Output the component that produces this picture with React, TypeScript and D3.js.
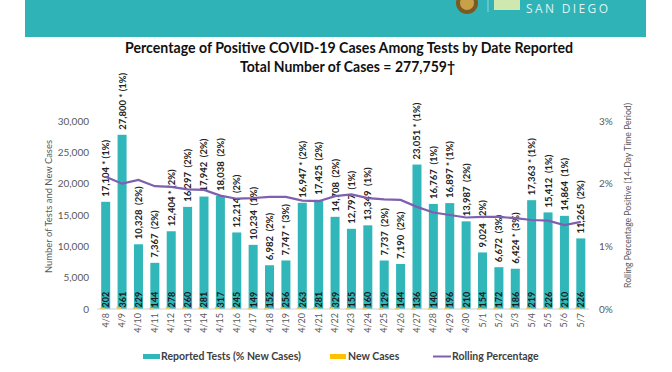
import React from "react";
import * as d3 from "d3";

// values (4/8 - 5/7)
const dates = ["4/8", "4/9", "4/10", "4/11", "4/12", "4/13", "4/14", "4/15", "4/16", "4/17",
  "4/18", "4/19", "4/20", "4/21", "4/22", "4/23", "4/24", "4/25", "4/26", "4/27",
  "4/28", "4/29", "4/30", "5/1", "5/2", "5/3", "5/4", "5/5", "5/6", "5/7"];
const tests = [17104, 27800, 10328, 7367, 12404, 16297, 17942, 18038, 12214, 10234,
  6982, 7747, 16947, 17425, 14708, 12797, 13349, 7737, 7190, 23051,
  16767, 16897, 13987, 9024, 6672, 6424, 17363, 15412, 14864, 11265];
const newCases = [202, 361, 229, 144, 278, 260, 281, 317, 245, 149,
  152, 256, 263, 281, 329, 155, 160, 129, 144, 136,
  140, 196, 210, 154, 172, 186, 219, 226, 210, 226];
const pctNew = [1, 1, 2, 2, 2, 2, 2, 2, 2, 1, 2, 3, 2, 2, 2, 1, 1, 2, 2, 1, 1, 1, 2, 2, 3, 3, 1, 1, 1, 2];
const starred = [1, 1, 0, 0, 1, 0, 0, 0, 0, 0, 0, 1, 1, 0, 0, 0, 0, 0, 0, 1, 0, 1, 0, 0, 0, 1, 1, 0, 0, 0];
const rolling = [2.11, 2.0, 2.06, 1.96, 1.95, 1.91, 1.9, 1.81, 1.76, 1.77,
  1.79, 1.79, 1.73, 1.72, 1.8, 1.83, 1.77, 1.75, 1.74, 1.63,
  1.54, 1.5, 1.46, 1.47, 1.47, 1.45, 1.42, 1.41, 1.34, 1.39];
const leftTicks = [0, 5000, 10000, 15000, 20000, 25000, 30000];
const rightTicks = [0, 1, 2, 3];

const TEAL = "#31b6b9";
const ORANGE = "#ffc000";
const PURPLE = "#7e5fb0";
const GREY = "#595959";
const FONT = "Lato, 'Liberation Sans', sans-serif";

export default function App() {
  const x = d3.scaleBand<string>().domain(dates).range([97.5, 589]).paddingInner(0.45).paddingOuter(0.225);
  const y = d3.scaleLinear().domain([0, 30000]).range([309, 121]);
  const yR = d3.scaleLinear().domain([0, 3]).range([309, 121]);
  const fmt = d3.format(",");
  const cx = (d: string) => (x(d) as number) + x.bandwidth() / 2;

  const line = d3.line<number>()
    .x((d, i) => cx(dates[i]))
    .y(d => yR(d));

  return (
    <svg width={672} height={372} style={{ position: "absolute", left: 0, top: 0, background: "#fff" }}
      fontFamily={FONT}>
      {/* banner */}
      <rect x={25} y={0} width={621} height={37} fill="#2fb3b7" />
      <circle cx={467} cy={3} r={11} fill="#7a5a22" />
      <circle cx={467} cy={3} r={7} fill="#c9a04a" />
      <line x1={488} x2={488} y1={0} y2={12} stroke="#8fd6d8" strokeWidth={1} />
      <rect x={494} y={0} width={26} height={10} fill="#cfe8b0" />
      <text x={526} y={13} fontSize={12} fill="#dff4f3" textLength={82} lengthAdjust="spacing"
        fontFamily="'Open Sans', sans-serif">SAN DIEGO</text>

      {/* titles */}
      <text x={349} y={53} textAnchor="middle" fontSize={14.5} fontWeight="bold" fill="#111"
        textLength={448} lengthAdjust="spacingAndGlyphs">
        Percentage of Positive COVID-19 Cases Among Tests by Date Reported
      </text>
      <text x={347.5} y={72} textAnchor="middle" fontSize={14.5} fontWeight="bold" fill="#111"
        textLength={215} lengthAdjust="spacingAndGlyphs">
        Total Number of Cases = 277,759†
      </text>

      {/* left axis */}
      {leftTicks.map(t => (
        <text key={t} x={89} y={y(t) + 3.5} textAnchor="end" fontSize={10} fill={GREY}>{fmt(t)}</text>
      ))}
      <text transform="translate(52,206.5) rotate(-90)" textAnchor="middle" fontSize={10} fill={GREY}
        textLength={133} lengthAdjust="spacingAndGlyphs">
        Number of Tests and New Cases
      </text>

      {/* right axis */}
      {rightTicks.map(t => (
        <text key={t} x={599} y={yR(t) + 3.5} fontSize={10} fill={GREY}>{t}%</text>
      ))}
      <text transform="translate(630.5,195.5) rotate(-90)" textAnchor="middle" fontSize={10} fill={GREY}
        textLength={185} lengthAdjust="spacingAndGlyphs">
        Rolling Percentage Positive (14-Day Time Period)
      </text>

      {/* bars */}
      {dates.map((d, i) => (
        <g key={d}>
          <rect x={x(d)} y={y(tests[i])} width={x.bandwidth()} height={y(0) - y(tests[i])} fill={TEAL} />
          <rect x={(x(d) as number) - 1} y={y(newCases[i])} width={x.bandwidth() * 0.5}
            height={Math.max(1.5, y(0) - y(newCases[i]))} fill={ORANGE} />
          <text transform={`translate(${cx(d) + 3.5},${y(0) - 1.5}) rotate(-90)`} fontSize={9}
            fontWeight="bold" fill="#1a1a1a">{newCases[i]}</text>
          <text transform={`translate(${cx(d) + 3.5},${y(tests[i]) - 5}) rotate(-90)`} fontSize={9.5}
            fontWeight="bold" fill="#222" style={{ whiteSpace: "pre" }}>
            {`${fmt(tests[i])}${starred[i] ? " * " : "  "}(${pctNew[i]}%)`}
          </text>
          <text transform={`translate(${cx(d) + 3},${y(0) + 4}) rotate(-90)`} textAnchor="end"
            fontSize={9} fill={GREY}>{d}</text>
        </g>
      ))}
      <line x1={97} x2={589} y1={y(0)} y2={y(0)} stroke="#d0d0d0" strokeWidth={1} />

      {/* rolling percentage */}
      <path d={line(rolling) || ""} fill="none" stroke={PURPLE} strokeWidth={2.2} />

      {/* legend */}
      <rect x={143} y={354} width={17} height={5} fill={TEAL} />
      <text x={161} y={360} fontSize={10.5} fontWeight="bold" fill="#404040">Reported Tests (% New Cases)</text>
      <rect x={330} y={354} width={16} height={5} fill={ORANGE} />
      <text x={348} y={360} fontSize={10.5} fontWeight="bold" fill="#404040">New Cases</text>
      <line x1={433} x2={451} y1={356.5} y2={356.5} stroke={PURPLE} strokeWidth={2} />
      <text x={452} y={360} fontSize={10.5} fontWeight="bold" fill="#404040">Rolling Percentage</text>
    </svg>
  );
}
